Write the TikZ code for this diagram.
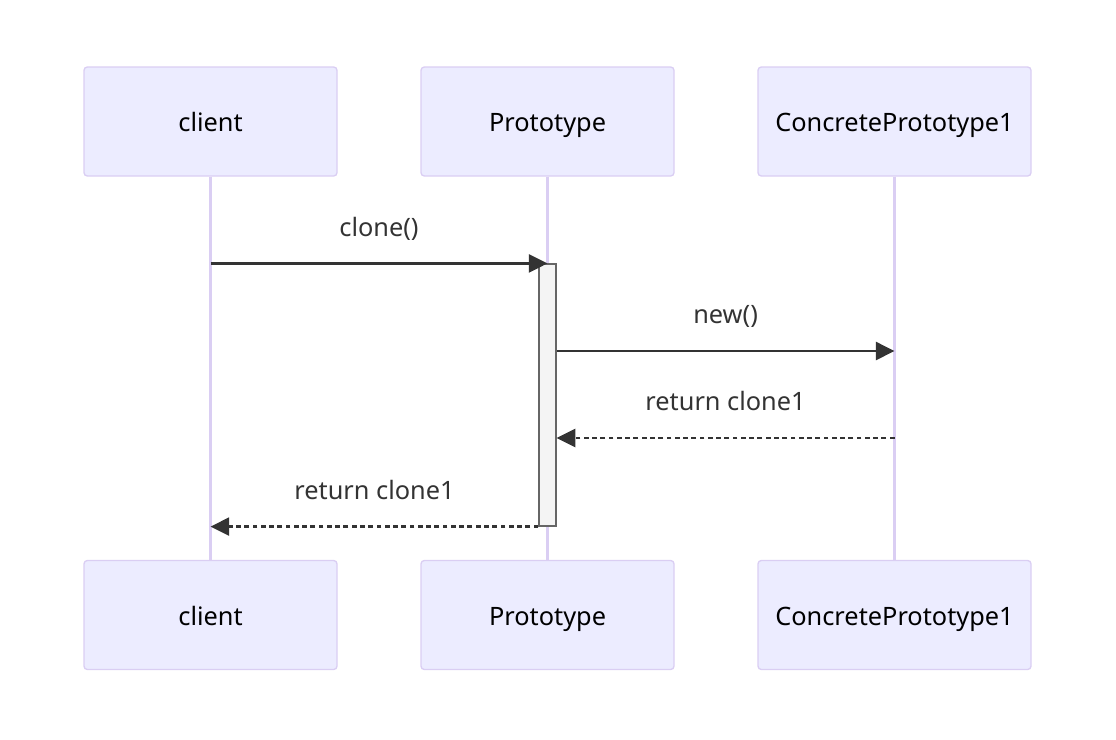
\documentclass[tikz,border=0pt]{standalone}
\usepackage{fontspec}
\setmainfont{Noto Sans}
\usetikzlibrary{arrows.meta}
\definecolor{actfill}{HTML}{ECECFF}
\definecolor{actline}{HTML}{DACEF3}
\definecolor{sig}{HTML}{333333}
\definecolor{barfill}{HTML}{F4F4F4}
\definecolor{barline}{HTML}{666666}

\begin{document}
\begin{tikzpicture}[x=0.75pt, y=-0.75pt,
  actor/.style={draw=actline, fill=actfill, line width=1pt, rounded corners=2.5pt,
    minimum width=189.75pt, minimum height=81.75pt, inner sep=0pt,
    text height=17pt, text depth=1.8pt,
    font=\fontsize{19}{23}\selectfont, text=black},
  life/.style={draw=actline, line width=2.2pt},
  msg/.style={draw=sig, line width=1.9pt, -{Triangle[length=14pt,width=13.5pt]}},
  ret/.style={msg, dash pattern=on 3.6pt off 2.6pt},
  lbl/.style={midway, anchor=base, yshift=20.5pt, font=\fontsize{19}{23}\selectfont, text=sig}]
  \useasboundingbox (0,0) rectangle (1116,739);
  % actors
  \node[actor] (cliTop) at (210.5,121.5) {client};
  \node[actor] (protoTop) at (547.5,121.5) {Prototype};
  \node[actor, minimum width=204.75pt] (concTop) at (894.5,121.5) {ConcretePrototype1};
  \node[actor] (cliBot) at (210.5,615) {client};
  \node[actor] (protoBot) at (547.5,615) {Prototype};
  \node[actor, minimum width=204.75pt] (concBot) at (894.5,615) {ConcretePrototype1};
  % lifelines
  \draw[life] (cliTop) -- (cliBot);
  \draw[life] (protoTop) -- (protoBot);
  \draw[life] (concTop) -- (concBot);
  % activation
  \node[draw=barline, fill=barfill, line width=0.9pt, minimum width=12.75pt,
    minimum height=196.5pt, inner sep=0pt] (act) at (547.5,395) {};
  % messages
  \coordinate (y2) at (0,351);
  \coordinate (y3) at (0,438);
  \draw[msg] (cliTop.south |- act.north) -- (protoTop.south |- act.north) node[lbl] {clone()};
  \draw[msg] (act.east |- y2) -- (concTop.south |- y2) node[lbl] {new()};
  \draw[ret] (concTop.south |- y3) -- (act.east |- y3) node[lbl] {return clone1};
  \draw[ret] (act.south west) -- (cliTop.south |- act.south) node[lbl] {return clone1};
\end{tikzpicture}
\end{document}
